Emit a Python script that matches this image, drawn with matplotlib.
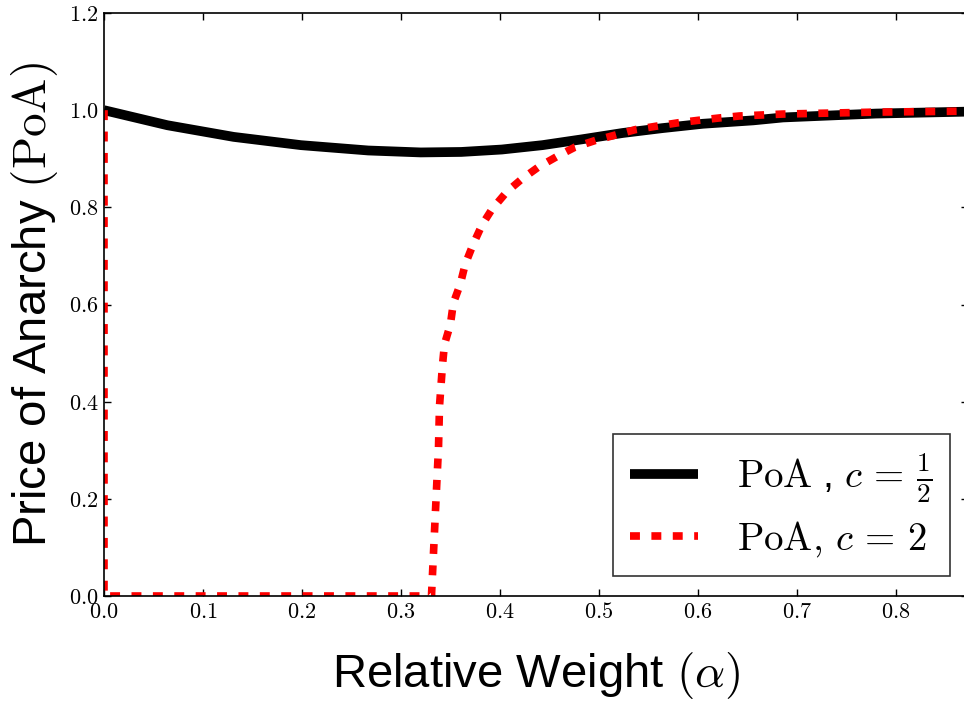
"""Price of Anarchy vs relative weight for two cost exponents."""

import matplotlib

matplotlib.use("Agg")
import matplotlib.pyplot as plt
from matplotlib.ticker import FormatStrFormatter

# PoA, c = 1/2
alpha_half = [0.0, 0.064, 0.131, 0.199, 0.267, 0.32, 0.361, 0.402, 0.443,
              0.483, 0.524, 0.564, 0.605, 0.656, 0.686, 0.78, 0.873]
poa_half = [1.0, 0.969, 0.945, 0.928, 0.917, 0.913, 0.914, 0.919, 0.928,
            0.940, 0.953, 0.963, 0.972, 0.979, 0.985, 0.993, 0.997]

# PoA, c = 2
alpha_two = [0.0, 0.0, 0.331, 0.331, 0.334, 0.336, 0.338, 0.339, 0.342,
             0.344, 0.350, 0.353, 0.360, 0.365, 0.373, 0.382, 0.392, 0.407,
             0.422, 0.439, 0.458, 0.476, 0.497, 0.517, 0.537, 0.558, 0.580,
             0.600, 0.622, 0.642, 0.686, 0.78, 0.873]
poa_two = [1.0, 0.0, 0.0, 0.005, 0.135, 0.221, 0.306, 0.391, 0.475,
           0.518, 0.559, 0.603, 0.642, 0.683, 0.724, 0.764, 0.796, 0.832,
           0.858, 0.883, 0.905, 0.924, 0.938, 0.949, 0.960, 0.967, 0.974,
           0.979, 0.984, 0.988, 0.992, 0.996, 0.998]

x_ticks = [0.0, 0.1, 0.2, 0.3, 0.4, 0.5, 0.6, 0.7, 0.8]
y_ticks = [0.0, 0.2, 0.4, 0.6, 0.8, 1.0, 1.2]

plt.rcParams["mathtext.fontset"] = "cm"
plt.rcParams["font.family"] = ["Liberation Sans", "DejaVu Sans"]


def main() -> None:
    fig = plt.figure(figsize=(9.64, 7.12), dpi=100)
    ax = fig.add_axes([104 / 964, 116 / 712, 864 / 964, 583 / 712])

    ax.plot(alpha_half, poa_half, color="black", linewidth=7.0,
            solid_capstyle="butt", solid_joinstyle="round",
            label=r"$\mathrm{PoA}$ , $c\,=\,\frac{1}{2}$")
    ax.plot(alpha_two, poa_two, color="red", linewidth=5.5,
            linestyle=(0, (1.3, 1.5)), dash_capstyle="butt",
            label=r"$\mathrm{PoA},\,c\,=\,2$")

    ax.set_xlim(0.0, 0.873)
    ax.set_ylim(0.0, 1.2)
    ax.set_xticks(x_ticks)
    ax.set_yticks(y_ticks)
    ax.xaxis.set_major_formatter(FormatStrFormatter("$%.1f$"))
    ax.yaxis.set_major_formatter(FormatStrFormatter("$%.1f$"))
    ax.tick_params(direction="in", length=5, width=1, top=True, right=True,
                   labelsize=16, pad=4)
    for spine in ax.spines.values():
        spine.set_linewidth(1.2)

    ax.set_xlabel(r"Relative Weight $(\alpha)$", fontsize=34, labelpad=20)
    ax.set_ylabel(r"Price of Anarchy $(\mathrm{PoA})$", fontsize=34, labelpad=6)

    leg = ax.legend(loc="lower right", fontsize=28, frameon=True,
                    fancybox=False, handlelength=1.75, handletextpad=1.0,
                    borderpad=0.45, labelspacing=0.35, borderaxespad=0.0,
                    bbox_to_anchor=(0.979, 0.034))
    leg.get_frame().set_edgecolor("black")
    leg.get_frame().set_linewidth(1.2)

    fig.savefig("out.png", dpi=100)
    plt.close(fig)


if __name__ == "__main__":
    main()
